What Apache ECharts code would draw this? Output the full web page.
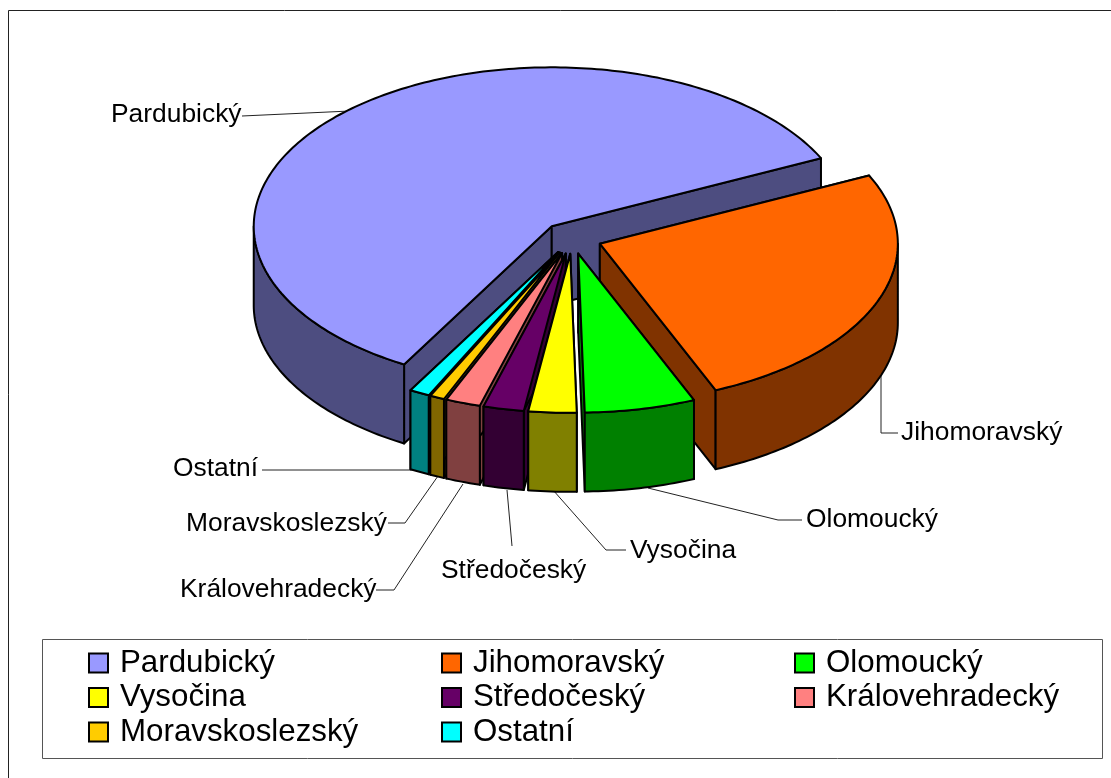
<!DOCTYPE html>
<html>
<head>
<meta charset="utf-8">
<style>html,body{margin:0;padding:0;background:#fff;overflow:hidden}#c{width:1111px;height:778px}</style>
<script src="https://cdn.jsdelivr.net/npm/echarts@6/dist/echarts.min.js"></script>
</head>
<body>
<div id="c"></div>
<script>
const categories = ['Pardubický','Jihomoravský','Olomoucký','Vysočina','Středočeský','Královehradecký','Moravskoslezský','Ostatní'];
const values = [59.7,25.7,6.0,2.6,2.2,1.9,0.8,1.1];
const topColors = ['#9999FF','#FF6600','#00FF00','#FFFF00','#660066','#FF8080','#FFCC00','#00FFFF'];
const sideColors = ['#4D4D80','#803300','#008000','#808000','#330033','#804040','#806600','#008080'];
const paintOrder = ['Pardubický','Jihomoravský','Ostatní','Moravskoslezský','Královehradecký','Středočeský','Vysočina','Olomoucký'];
const legendColumns = [['Pardubický','Vysočina','Moravskoslezský'],['Jihomoravský','Středočeský','Ostatní'],['Olomoucký','Královehradecký']];

const pie = {cx:572, cy:238, rx:298, ry:159, depth:79, explode:0.1, firstAngle:209.7};
const labelSpots = {
  'Pardubický':[111,115],'Jihomoravský':[901,433],'Olomoucký':[806,520],'Vysočina':[630,551],
  'Středočeský':[441,571],'Královehradecký':[180,590],'Moravskoslezský':[186,524],'Ostatní':[173,469]
};
const leaders = [
  [[242,116],[350,111]],
  [[881,375],[881,433],[898,433]],
  [[648,488],[778,520],[802,520]],
  [[553,490],[606,550],[626,550]],
  [[507,490],[512,546]],
  [[262,470],[420,470]],
  [[438,476],[405,523],[388,523]],
  [[463,484],[394,590],[376,590]]
];

const total = values.reduce((a,b)=>a+b,0);
const angles = [];
let running = pie.firstAngle;
values.forEach(v=>{const span=v/total*360;angles.push([running,running+span]);running+=span;});

function pt(c,deg,dz){
  const r=deg*Math.PI/180;
  return [c[0]+pie.rx*Math.sin(r), c[1]-pie.ry*Math.cos(r)+(dz||0)];
}
function arc(c,a,b,dz){
  const out=[];
  for(let d=a;d<b;d+=1) out.push(pt(c,d,dz));
  out.push(pt(c,b,dz));
  return out;
}
const edge={stroke:'#000',lineWidth:2,lineJoin:'round'};
function poly(points,fill){return {type:'polygon',shape:{points},style:Object.assign({fill},edge)};}

function renderSlice(i){
  const a=angles[i][0], b=angles[i][1], mid=(a+b)/2*Math.PI/180;
  const c=[pie.cx+pie.explode*pie.rx*Math.sin(mid), pie.cy-pie.explode*pie.ry*Math.cos(mid)];
  const side=sideColors[i], d=pie.depth, kids=[];
  const c2=[c[0],c[1]+d];
  [a,b].forEach(t=>{
    const p=pt(c,t);
    kids.push(poly([c,p,[p[0],p[1]+d],c2],side));
  });
  // the outer wall shows only on the front half of the ellipse
  for(const shift of [0,360]){
    const s=Math.max(a,90+shift), e=Math.min(b,270+shift);
    if(e>s){
      const upper=arc(c,s,e,0), lower=arc(c,s,e,d).reverse();
      kids.push(poly(upper.concat(lower),side));
    }
  }
  kids.push(poly([c].concat(arc(c,a,b,0)),topColors[i]));
  return {type:'group',children:kids};
}

const series = categories.map((name,i)=>({
  type:'custom',name,coordinateSystem:'none',silent:true,animation:false,
  z:10+paintOrder.indexOf(name),
  itemStyle:{color:topColors[i],borderColor:'#000',borderWidth:2},
  data:[[values[i]]],
  renderItem:()=>renderSlice(i)
}));

const labelFont='26.4px "Liberation Sans", Arial, sans-serif';
const graphic=[
  {type:'rect',z:0,silent:true,shape:{x:8.5,y:10.5,width:1120,height:790},style:{fill:'#fff',stroke:'#222',lineWidth:1}},
  {type:'rect',z:1,silent:true,shape:{x:42.5,y:639.5,width:1060,height:119},style:{fill:'#fff',stroke:'#555',lineWidth:1}}
];
leaders.forEach(points=>graphic.push({type:'polyline',z:2,silent:true,shape:{points},style:{fill:null,stroke:'#222',lineWidth:1}}));
categories.forEach(name=>{
  const s=labelSpots[name];
  graphic.push({type:'text',z:30,silent:true,x:s[0],y:s[1],style:{text:name,font:labelFont,fill:'#000',verticalAlign:'middle',align:'left'}});
});

const legendLeft=[88,441,794];
const legend=legendColumns.map((data,i)=>({
  data,orient:'vertical',left:legendLeft[i],top:647,icon:'rect',itemWidth:19,itemHeight:19,itemGap:2.5,
  selectedMode:false,
  itemStyle:{borderColor:'#000',borderWidth:2},
  textStyle:{fontFamily:'"Liberation Sans", Arial, sans-serif',fontSize:31.3,lineHeight:30,color:'#000',padding:[2,0,0,7]},
  padding:0
}));

const chart=echarts.init(document.getElementById('c'),null,{renderer:'canvas'});
chart.setOption({animation:false,backgroundColor:'#fff',legend,series,graphic});
</script>
</body>
</html>
